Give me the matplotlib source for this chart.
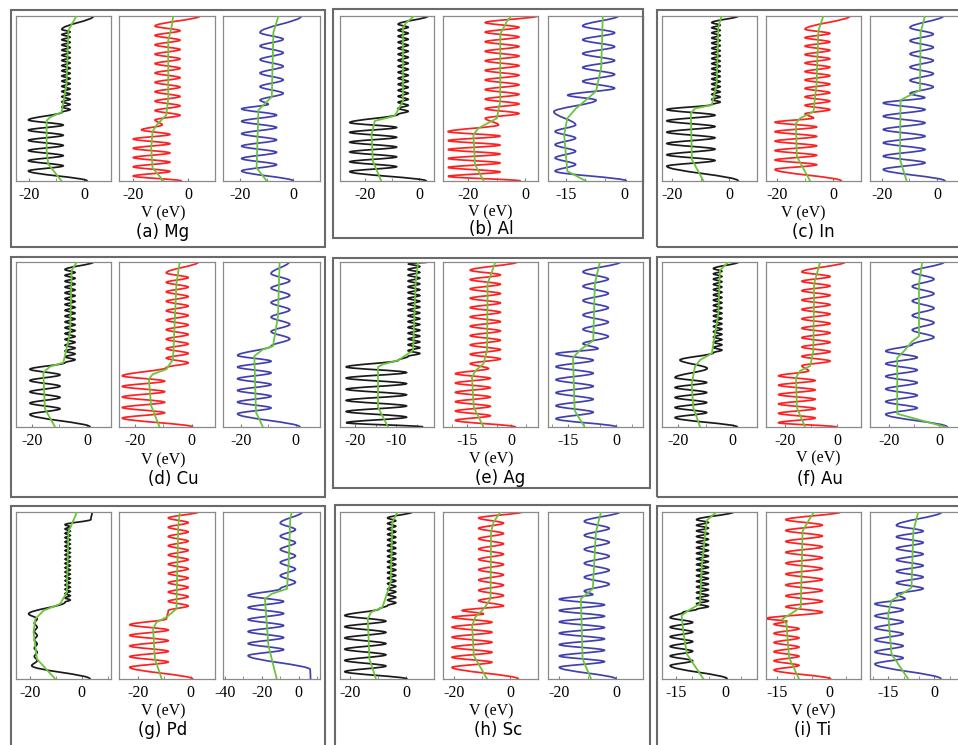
import matplotlib
matplotlib.use('Agg')
import matplotlib.pyplot as plt
from matplotlib.path import Path
from matplotlib.patches import PathPatch, Rectangle
from matplotlib.ticker import MultipleLocator

plt.rcParams['axes.unicode_minus'] = False

# ── Data: per metal, three sub-plots (black / red / blue) ──────────────────
# runs: (f_start, f_end, V_first, V_second, n_extrema) — turning points of the
# oscillating potential, alternating V_first / V_second, f = height fraction.
# ends: V at the bottom (f=0) and top (f=1) of the curve.
# GF / GV: averaged (green) potential.

MG_XLIM = [(-24.6, 9.8), (-25.2, 9.7), (-26.4, 10.0)]
MG_TICKS = [[-20, 0], [-20, 0], [-20, 0]]
MG_ENDS = [(1.2, 3.5), (-2.4, 4.2), (0.0, 3.0)]
MG_RUNS = [
    [(0.061, 0.370, -20.1, -7.5, 11), (0.417, 0.919, -8.0, -5.0, 33)],
    [(0.030, 0.282, -20.0, -6.7, 10), (0.310, 0.310, -17.0, 0, 1), (0.340, 0.340, -9.5, 0, 1),
     (0.370, 0.939, -12.1, -3.0, 21)],
    [(0.061, 0.437, -19.4, -6.3, 11), (0.465, 0.465, -9.4, 0, 1), (0.490, 0.900, -12.5, -3.8, 11)],
]
MG_GF = [[0, 0.102, 0.183, 0.366, 0.386, 0.417, 0.589, 0.915, 1.0],
         [0, 0.08, 0.2, 0.3, 0.34, 0.4, 0.5, 0.85, 0.94, 1.0],
         [0, 0.08, 0.43, 0.48, 0.51, 0.9, 1.0]]
MG_GV = [[-8.1, -12.9, -13.5, -13.5, -12.3, -8.1, -6.3, -5.6, -2.7],
         [-9.0, -13.0, -13.5, -13.0, -11.5, -8.0, -7.3, -7.3, -6.0, -5.5],
         [-10.0, -13.8, -13.1, -10.0, -8.1, -7.5, -5.6]]

AL_XLIM = [(-29.1, 5.5), (-28.9, 4.6), (-19.5, 4.6)]
AL_TICKS = [[-20, 0], [-20, 0], [-15, 0]]
AL_ENDS = [(2.7, 3.3), (-1.5, 4.4), (0.4, -1.7)]
AL_RUNS = [
    [(0.057, 0.354, -25.5, -8.3, 11), (0.404, 0.950, -7.7, -4.0, 31)],
    [(0.028, 0.299, -27.1, -8.7, 11), (0.340, 0.340, -9.3, 0, 1), (0.380, 0.960, -14.0, -2.1, 21)],
    [(0.060, 0.340, -17.7, -12.5, 8), (0.420, 0.420, -18.0, 0, 1), (0.490, 0.490, -7.3, 0, 1),
     (0.520, 0.520, -14.5, 0, 1), (0.562, 0.940, -2.6, -10.7, 10)],
]
AL_GF = [[0, 0.12, 0.28, 0.364, 0.394, 0.485, 0.93, 0.96, 1.0],
         [0, 0.1, 0.28, 0.32, 0.38, 0.485, 0.89, 0.97, 1.0],
         [0, 0.06, 0.28, 0.38, 0.44, 0.49, 0.545, 0.69, 1.0]]
AL_GV = [[-13.9, -17.0, -17.5, -16.3, -9.0, -5.9, -5.9, -4.7, -1.8],
         [-14.6, -17.6, -18.2, -16.4, -9.9, -8.7, -8.7, -6.3, -4.8],
         [-9.9, -14.6, -15.4, -14.6, -12.4, -9.9, -7.3, -6.0, -5.6]]

IN_XLIM = [(-23.4, 9.6), (-23.8, 9.8), (-24.2, 10.0)]
IN_TICKS = [[-20, 0], [-20, 0], [-20, 0]]
IN_ENDS = [(3.1, 3.1), (2.9, 5.9), (2.8, 2.2)]
IN_RUNS = [
    [(0.090, 0.433, -21.7, -5.0, 11), (0.463, 0.960, -6.1, -3.2, 33)],
    [(0.070, 0.356, -20.6, -5.9, 11), (0.382, 0.382, -7.0, 0, 1), (0.407, 0.920, -10.0, -1.2, 21)],
    [(0.070, 0.473, -19.4, -4.4, 11), (0.505, 0.505, -4.5, 0, 1), (0.530, 0.930, -9.8, -1.4, 11)],
]
IN_GF = [[0, 0.13, 0.41, 0.44, 0.46, 0.59, 0.936, 1.0],
         [0, 0.15, 0.35, 0.38, 0.42, 0.59, 0.91, 1.0],
         [0, 0.13, 0.49, 0.51, 0.55, 0.9, 1.0]]
IN_GV = [[-9.0, -13.0, -13.4, -11.9, -6.1, -4.4, -3.8, -2.7],
         [-8.2, -12.9, -13.2, -11.8, -7.0, -5.9, -5.3, -3.5],
         [-11.0, -13.4, -13.2, -11.0, -6.2, -6.0, -4.4]]

CU_XLIM = [(-25.6, 8.5), (-25.8, 8.3), (-26.5, 8.8)]
CU_TICKS = [[-20, 0], [-20, 0], [-20, 0]]
CU_ENDS = [(1.0, 2.2), (0.4, 2.4), (1.5, -2.5)]
CU_RUNS = [
    [(0.076, 0.350, -20.6, -9.8, 9), (0.390, 0.954, -8.0, -4.4, 33)],
    [(0.054, 0.310, -24.6, -9.6, 9), (0.360, 0.934, -9.0, -1.2, 21)],
    [(0.080, 0.434, -21.2, -9.0, 11), (0.490, 0.930, -9.0, -2.2, 11)],
]
CU_GF = [[0, 0.11, 0.33, 0.366, 0.39, 0.57, 0.95, 1.0],
         [0, 0.13, 0.29, 0.32, 0.35, 0.41, 0.87, 1.0],
         [0, 0.09, 0.43, 0.47, 0.49, 0.67, 1.0]]
CU_GV = [[-11.6, -15.2, -15.8, -13.4, -8.6, -6.2, -5.6, -3.8],
         [-11.4, -14.4, -15.2, -13.8, -9.0, -6.6, -5.4, -4.2],
         [-12.0, -14.5, -15.1, -12.0, -8.3, -6.5, -5.9]]

AG_XLIM = [(-23.5, -1.0), (-23.1, 9.0), (-21.2, 8.4)]
AG_TICKS = [[-20, -10], [-15, 0], [-15, 0]]
AG_ENDS = [(-3.6, -2.4), (1.4, 1.9), (0.2, 1.3)]
AG_RUNS = [
    [(0.026, 0.364, -22.0, -7.6, 11), (0.404, 0.404, -9.6, 0, 1), (0.428, 0.990, -7.2, -4.4, 33)],
    [(0.040, 0.323, -18.9, -7.1, 11), (0.354, 0.354, -7.7, 0, 1), (0.384, 0.950, -13.9, -3.7, 21)],
    [(0.050, 0.444, -18.7, -7.1, 11), (0.475, 0.475, -5.6, 0, 1), (0.505, 0.940, -10.3, -2.4, 11)],
]
AG_GF = [[0, 0.12, 0.364, 0.38, 0.404, 0.465, 0.87, 1.0],
         [0, 0.12, 0.3, 0.34, 0.384, 0.465, 0.87, 1.0],
         [0, 0.1, 0.42, 0.465, 0.525, 0.87, 1.0]]
AG_GV = [[-12.0, -14.4, -14.4, -13.2, -9.6, -6.0, -5.4, -4.8],
         [-9.4, -12.7, -13.3, -12.2, -9.4, -8.2, -8.0, -5.4],
         [-9.8, -12.9, -13.4, -11.3, -7.1, -6.6, -5.0]]

AU_XLIM = [(-26.0, 8.9), (-27.3, 9.0), (-27.6, 10.4)]
AU_TICKS = [[-20, 0], [-20, 0], [-20, 0]]
AU_ENDS = [(1.7, 2.1), (-0.3, 2.9), (3.3, 2.0)]
AU_RUNS = [
    [(0.057, 0.300, -21.2, -9.6, 9), (0.355, 0.355, -9.4, 0, 1), (0.406, 0.406, -19.4, 0, 1),
     (0.450, 0.960, -7.1, -4.0, 33)],
    [(0.026, 0.310, -22.5, -8.5, 11), (0.340, 0.340, -11.0, 0, 1), (0.371, 0.940, -13.6, -2.8, 21)],
    [(0.077, 0.460, -21.3, -8.7, 11), (0.500, 0.940, -10.7, -2.0, 11)],
]
AU_GF = [[0, 0.118, 0.26, 0.365, 0.406, 0.446, 0.69, 0.95, 1.0],
         [0, 0.118, 0.3, 0.34, 0.37, 0.46, 0.87, 1.0],
         [0, 0.08, 0.42, 0.46, 0.52, 0.55, 0.87, 1.0]]
AU_GV = [[-12.0, -14.5, -15.1, -13.9, -12.0, -7.7, -5.3, -4.7, -1.6],
         [-12.4, -15.5, -15.8, -14.3, -10.4, -9.2, -8.9, -6.6],
         [2.7, -16.7, -16.7, -14.0, -10.7, -8.0, -8.0, -6.7]]

PD_XLIM = [(-25.5, 11.3), (-27.3, 9.3), (-41.0, 11.5)]
PD_TICKS = [[-20, 0], [-20, 0], [-40, -20, 0]]
PD_ENDS = [(3.2, 4.0), (0.8, 2.9), (6.4, 1.8)]
PD_RUNS = [
    [(0.080, 0.080, -19.4, 0, 1), (0.110, 0.360, -17.3, -18.4, 11), (0.390, 0.390, -20.6, 0, 1),
     (0.460, 0.924, -6.5, -4.5, 37), (0.955, 0.955, 3.5, 0, 1)],
    [(0.070, 0.325, -23.2, -8.5, 9), (0.360, 0.360, -9.2, 0, 1), (0.410, 0.964, -8.5, -0.9, 21)],
    [(0.056, 0.056, 6.2, 0, 1), (0.140, 0.500, -27.4, -8.2, 11), (0.540, 0.934, -10.0, -1.8, 11)],
]
PD_GF = [[0, 0.12, 0.28, 0.36, 0.41, 0.45, 0.52, 0.88, 1.0],
         [0, 0.12, 0.3, 0.34, 0.37, 0.42, 0.92, 1.0],
         [0, 0.2, 0.48, 0.51, 0.54, 0.68, 0.96, 1.0]]
PD_GV = [[-10.3, -17.4, -18.7, -18.0, -14.8, -8.4, -5.8, -5.2, -1.9],
         [-11.0, -13.6, -14.3, -13.0, -9.2, -5.4, -4.7, -4.1],
         [-11.9, -16.4, -18.3, -14.6, -6.4, -5.5, -4.6, -3.7]]

SC_XLIM = [(-23.4, 9.8), (-23.8, 9.8), (-24.0, 9.5)]
SC_TICKS = [[-20, 0], [-20, 0], [-20, 0]]
SC_ENDS = [(0.3, 2.1), (2.9, 4.1), (0.0, 1.2)]
SC_RUNS = [
    [(0.044, 0.380, -21.7, -7.2, 11), (0.420, 0.420, -9.5, 0, 1), (0.440, 0.964, -6.6, -3.7, 33)],
    [(0.070, 0.370, -20.6, -6.5, 11), (0.390, 0.390, -9.4, 0, 1), (0.410, 0.410, -17.0, 0, 1),
     (0.438, 0.964, -2.4, -11.2, 18)],
    [(0.070, 0.478, -20.0, -4.1, 13), (0.506, 0.506, -8.2, 0, 1), (0.526, 0.944, -11.2, -2.4, 11)],
]
SC_GF = [[0, 0.12, 0.36, 0.4, 0.43, 0.58, 0.94, 1.0],
         [0, 0.14, 0.32, 0.37, 0.42, 0.48, 0.88, 0.94, 1.0],
         [0, 0.12, 0.48, 0.506, 0.54, 0.88, 1.0]]
SC_GV = [[-10.7, -13.0, -13.6, -12.4, -8.4, -5.5, -4.9, -3.1],
         [-8.2, -12.9, -13.5, -12.4, -9.4, -7.0, -6.8, -5.9, -3.5],
         [-8.8, -11.8, -12.4, -10.6, -8.2, -7.1, -5.3]]

TI_XLIM = [(-19.3, 9.8), (-18.1, 9.2), (-20.9, 10.0)]
TI_TICKS = [[-15, 0], [-15, 0], [-15, 0]]
TI_ENDS = [(0.7, 2.6), (0.5, 3.3), (2.2, 2.4)]
TI_RUNS = [
    [(0.080, 0.368, -16.8, -9.9, 11), (0.400, 0.400, -12.8, 0, 1), (0.417, 0.954, -8.7, -5.1, 33)],
    [(0.054, 0.328, -15.8, -8.6, 11), (0.345, 0.345, -12.0, 0, 1), (0.362, 0.362, -18.2, 0, 1),
     (0.400, 0.954, -1.9, -12.4, 18)],
    [(0.090, 0.450, -19.3, -10.1, 11), (0.480, 0.480, -9.5, 0, 1), (0.507, 0.920, -12.3, -3.6, 13)],
]
TI_GF = [[0, 0.15, 0.29, 0.38, 0.41, 0.45, 0.68, 0.95, 1.0],
         [0, 0.13, 0.33, 0.36, 0.39, 0.43, 0.885, 0.954, 1.0],
         [0, 0.15, 0.39, 0.47, 0.507, 0.547, 0.885, 1.0]]
TI_GV = [[-6.6, -11.7, -12.8, -13.3, -11.2, -7.7, -7.1, -5.6, -2.6],
         [-8.6, -11.5, -12.2, -13.4, -11.0, -8.1, -7.6, -5.7, -4.3],
         [-8.5, -13.9, -15.0, -13.9, -10.7, -7.4, -6.8, -5.2]]

CAPTIONS = ['(a) Mg', '(b) Al', '(c) In', '(d) Cu', '(e) Ag', '(f) Au', '(g) Pd', '(h) Sc', '(i) Ti']
PANELS = [
    (MG_XLIM, MG_TICKS, MG_ENDS, MG_RUNS, MG_GF, MG_GV),
    (AL_XLIM, AL_TICKS, AL_ENDS, AL_RUNS, AL_GF, AL_GV),
    (IN_XLIM, IN_TICKS, IN_ENDS, IN_RUNS, IN_GF, IN_GV),
    (CU_XLIM, CU_TICKS, CU_ENDS, CU_RUNS, CU_GF, CU_GV),
    (AG_XLIM, AG_TICKS, AG_ENDS, AG_RUNS, AG_GF, AG_GV),
    (AU_XLIM, AU_TICKS, AU_ENDS, AU_RUNS, AU_GF, AU_GV),
    (PD_XLIM, PD_TICKS, PD_ENDS, PD_RUNS, PD_GF, PD_GV),
    (SC_XLIM, SC_TICKS, SC_ENDS, SC_RUNS, SC_GF, SC_GV),
    (TI_XLIM, TI_TICKS, TI_ENDS, TI_RUNS, TI_GF, TI_GV),
]

# ── Layout (pixels of the 958x745 canvas, origin top-left) ─────────────────
W, H = 958, 745
COL_AX = [[(16, 111), (119, 215), (223, 320)],
          [(340, 434), (443, 538), (548, 643)],
          [(662, 757), (766, 861), (870, 965)]]
ROW_AX = [(16, 181), (262, 427), (512, 679)]
FRAMES = [(11, 10, 325, 247), (333, 9, 643, 238), (657, 10, 965, 247),
          (11, 257, 325, 497), (333, 258, 650, 488), (657, 257, 965, 497),
          (11, 506, 325, 752), (335, 505, 650, 752), (657, 506, 965, 752)]
VLAB = [(163, 213), (490, 212), (803, 213), (163, 460), (491, 459), (818, 458),
        (163, 711), (491, 711), (813, 711)]
CAPS = [(163, 232), (491, 229), (813, 232), (173, 479), (500, 478), (820, 479),
        (163, 730), (498, 730), (813, 730)]

COLORS = ['#1a1a1a', '#ff2020', '#4040b0']
GREEN = '#6cc43a'
SERIF = 'Liberation Serif'
SANS = 'DejaVu Sans'


def knots(ends, runs):
    pts = [(ends[0], 0.0)]
    for f0, f1, va, vb, n in runs:
        for k in range(n):
            f = f0 if n == 1 else f0 + (f1 - f0) * k / (n - 1)
            pts.append((va if k % 2 == 0 else vb, f))
    pts.append((ends[1], 1.0))
    return pts


def wave_path(pts):
    """Turning points joined by cubic Beziers with vertical tangents."""
    verts = [pts[0]]
    codes = [Path.MOVETO]
    for (v0, f0), (v1, f1) in zip(pts[:-1], pts[1:]):
        h = f1 - f0
        verts += [(v0, f0 + h / 3), (v1, f1 - h / 3), (v1, f1)]
        codes += [Path.CURVE4] * 3
    return Path(verts, codes)


def px(x0, y0, x1, y1):
    return [x0 / W, 1 - y1 / H, (x1 - x0) / W, (y1 - y0) / H]


fig = plt.figure(figsize=(W / 100, H / 100), dpi=100)

for p, (xlims, ticks, ends, runs, gfs, gvs) in enumerate(PANELS):
    row, col = divmod(p, 3)
    y0, y1 = ROW_AX[row]
    for j in range(3):
        x0, x1 = COL_AX[col][j]
        ax = fig.add_axes(px(x0, y0, x1, y1))
        ax.set_xlim(*xlims[j])
        ax.set_ylim(0, 1)
        ax.set_yticks([])
        ax.set_xticks(ticks[j])
        step = ticks[j][1] - ticks[j][0]
        ax.xaxis.set_minor_locator(MultipleLocator(step / 2 if step != 15 else 5))
        ax.set_xticklabels([str(t) for t in ticks[j]], family=SERIF, fontsize=11.5)
        ax.tick_params(axis='x', which='both', direction='in', length=2.5,
                       color='#808080', pad=4)
        for s in ax.spines.values():
            s.set_color('#8a8a8a')
            s.set_linewidth(0.9)
        ax.add_patch(PathPatch(wave_path(knots(ends[j], runs[j])), fill=False,
                               edgecolor=COLORS[j], lw=1.25, zorder=2))
        ax.plot(gvs[j], gfs[j], color=GREEN, lw=1.3, zorder=3)

    fx0, fy0, fx1, fy1 = FRAMES[p]
    fig.add_artist(Rectangle((fx0 / W, 1 - fy1 / H), (fx1 - fx0) / W, (fy1 - fy0) / H,
                             transform=fig.transFigure, fill=False,
                             edgecolor='#6a6a6a', lw=1.5))
    vx, vy = VLAB[p]
    fig.text(vx / W, 1 - vy / H, 'V (eV)', family=SERIF, fontsize=11.5,
             ha='center', va='center')
    cx, cy = CAPS[p]
    fig.text(cx / W, 1 - cy / H, CAPTIONS[p], family=SANS, fontsize=12,
             ha='center', va='center')

fig.savefig('out.png', dpi=100)
